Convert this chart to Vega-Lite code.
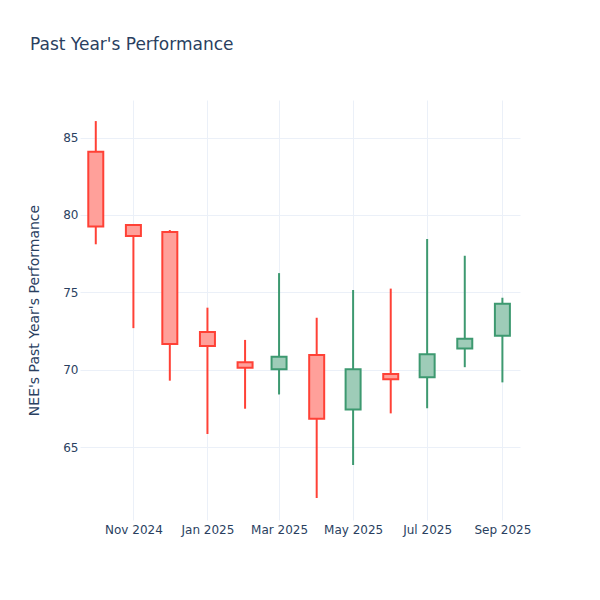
{
  "$schema": "https://vega.github.io/schema/vega-lite/v6.json",
  "width": 440,
  "height": 420,
  "autosize": {"type": "none"},
  "padding": {"left": 80, "top": 100, "right": 80, "bottom": 80},
  "background": "white",
  "config": {
    "font": "DejaVu Sans",
    "view": {"stroke": null},
    "axis": {
      "domain": false,
      "ticks": false,
      "gridColor": "#EBF0F8",
      "gridWidth": 1,
      "labelColor": "#2a3f5f",
      "labelFontSize": 12,
      "titleColor": "#2a3f5f",
      "titleFontSize": 14,
      "titleFontWeight": "normal"
    }
  },
  "title": {
    "text": "Past Year's Performance",
    "anchor": "start",
    "frame": "group",
    "dx": -50,
    "offset": 46,
    "fontSize": 17,
    "fontWeight": "normal",
    "color": "#2a3f5f"
  },
  "data": {
    "values": [
      {"date": "2024-10-01", "open": 84.08, "high": 86.06, "low": 78.11, "close": 79.25, "dir": "down"},
      {"date": "2024-11-01", "open": 79.35, "high": 79.36, "low": 72.7, "close": 78.65, "dir": "down"},
      {"date": "2024-12-01", "open": 78.9, "high": 79.03, "low": 69.31, "close": 71.68, "dir": "down"},
      {"date": "2025-01-01", "open": 72.45, "high": 74.02, "low": 65.87, "close": 71.55, "dir": "down"},
      {"date": "2025-02-01", "open": 70.5, "high": 71.94, "low": 67.5, "close": 70.15, "dir": "down"},
      {"date": "2025-03-01", "open": 70.05, "high": 76.25, "low": 68.42, "close": 70.86, "dir": "up"},
      {"date": "2025-04-01", "open": 70.97, "high": 73.37, "low": 61.74, "close": 66.85, "dir": "down"},
      {"date": "2025-05-01", "open": 67.45, "high": 75.16, "low": 63.87, "close": 70.05, "dir": "up"},
      {"date": "2025-06-01", "open": 69.74, "high": 75.25, "low": 67.2, "close": 69.4, "dir": "down"},
      {"date": "2025-07-01", "open": 69.53, "high": 78.45, "low": 67.53, "close": 71.01, "dir": "up"},
      {"date": "2025-08-01", "open": 71.38, "high": 77.37, "low": 70.18, "close": 72.02, "dir": "up"},
      {"date": "2025-09-01", "open": 72.21, "high": 74.66, "low": 69.2, "close": 74.28, "dir": "up"}
    ]
  },
  "encoding": {
    "x": {
      "field": "date",
      "type": "temporal",
      "scale": {"type": "utc", "domain": ["2024-09-18", "2025-09-15T12:00:00Z"], "padding": 0},
      "axis": {
        "title": null,
        "values": ["2024-11-01", "2025-01-01", "2025-03-01", "2025-05-01", "2025-07-01", "2025-09-01"],
        "format": "%b %Y",
        "labelPadding": 4,
        "labelAngle": 0
      }
    }
  },
  "layer": [
    {
      "mark": {"type": "rule", "strokeWidth": 2},
      "encoding": {
        "y": {
          "field": "low",
          "type": "quantitative",
          "scale": {"domain": [60.32, 87.42], "nice": false, "zero": false, "padding": 0},
          "axis": {
            "title": "NEE's Past Year's Performance",
            "values": [65, 70, 75, 80, 85],
            "labelPadding": 2,
            "titleX": -42,
            "titleY": 210,
            "titleAngle": -90,
            "titleAlign": "center",
            "titleBaseline": "alphabetic"
          }
        },
        "y2": {"field": "high"},
        "stroke": {
          "field": "dir",
          "type": "nominal",
          "scale": {"domain": ["down", "up"], "range": ["#FF4136", "#3D9970"]},
          "legend": null
        }
      }
    },
    {
      "mark": {"type": "bar", "size": 15, "strokeWidth": 2},
      "encoding": {
        "y": {"field": "open", "type": "quantitative"},
        "y2": {"field": "close"},
        "fill": {
          "field": "dir",
          "type": "nominal",
          "scale": {"domain": ["down", "up"], "range": ["#FFA09A", "#9ECCB8"]},
          "legend": null
        },
        "stroke": {
          "field": "dir",
          "type": "nominal",
          "scale": {"domain": ["down", "up"], "range": ["#FF4136", "#3D9970"]},
          "legend": null
        }
      }
    }
  ]
}
